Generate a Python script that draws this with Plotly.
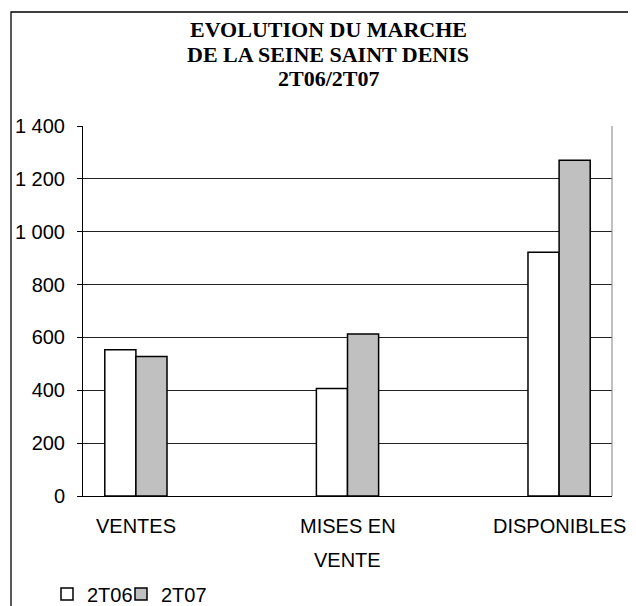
import plotly.graph_objects as go

# data
categories = ["VENTES", "MISES EN VENTE", "DISPONIBLES"]
label_lines = [["VENTES"], ["MISES EN", "VENTE"], ["DISPONIBLES"]]
series_names = ["2T06", "2T07"]
values_2t06 = [553, 407, 922]
values_2t07 = [528, 613, 1270]
y_ticks = [0, 200, 400, 600, 800, 1000, 1200, 1400]
title_lines = ["EVOLUTION DU MARCHE", "DE LA SEINE SAINT DENIS", "2T06/2T07"]

# the page body has an 8px margin, so the figure is shrunk by that much
OFF = 8
W, H = 636 - OFF, 606 - OFF
L, R, T, B = 83, 612, 126, 496  # plot area, window pixels

SANS = "Liberation Sans, Arial, sans-serif"
SERIF = "Liberation Serif, Times New Roman, serif"


def px(x):
    return (x - L) / (R - L)


def py(y):
    return (B - y) / (B - T)


fig = go.Figure()

fig.add_trace(go.Bar(
    x=categories, y=values_2t06, name=series_names[0], legend="legend",
    marker=dict(color="white", line=dict(color="black", width=1.5)),
))
fig.add_trace(go.Bar(
    x=categories, y=values_2t07, name=series_names[1], legend="legend2",
    marker=dict(color="#c0c0c0", line=dict(color="black", width=1.5)),
))

# title, one annotation per line to keep the tight line spacing
for line, yc in zip(title_lines, [29, 55, 78.5]):
    fig.add_annotation(
        text=line, xref="paper", yref="paper", x=px(328), y=py(yc),
        xanchor="center", yanchor="middle", showarrow=False,
        font=dict(family=SERIF, size=22, color="black", weight="bold"),
    )

# category labels under the axis
for cat, lines in zip(categories, label_lines):
    for i, line in enumerate(lines):
        fig.add_annotation(
            text=line, xref="x", yref="paper", x=cat, y=py(525.5 + 34 * i),
            xanchor="center", yanchor="middle", showarrow=False,
            font=dict(family=SANS, size=20, color="black"),
        )

# outer frame (open to the right/bottom of the window) and right border of plot
fig.add_shape(type="rect", xref="paper", yref="paper",
              x0=px(11), x1=px(660), y0=py(640), y1=py(12),
              line=dict(color="black", width=1.3), layer="below")
fig.add_shape(type="line", xref="paper", yref="paper",
              x0=1, x1=1, y0=0, y1=1, line=dict(color="#808080", width=1))

legend_style = dict(
    orientation="h", xanchor="left", yanchor="middle", y=py(594),
    font=dict(family=SANS, size=20, color="black"),
    bgcolor="rgba(0,0,0,0)",
)

fig.update_layout(
    width=W, height=H,
    margin=dict(l=L - OFF, r=W + OFF - R, t=T - OFF, b=H + OFF - B,
                autoexpand=False),
    paper_bgcolor="white", plot_bgcolor="white",
    barmode="group", bargap=0.706, bargroupgap=0,
    separators=", ",
    showlegend=True,
    legend=dict(x=px(47), **legend_style),
    legend2=dict(x=px(121), **legend_style),
    xaxis=dict(
        type="category", range=[-0.25, 2.25], showticklabels=False,
        ticks="", showgrid=False, showline=True, linecolor="black", linewidth=1,
    ),
    xaxis2=dict(
        overlaying="x", anchor="y", range=[-0.25, 2.25], showgrid=False,
        showline=False, zeroline=False, showticklabels=False,
        tickmode="array", tickvals=[-0.25, 0.25, 0.75, 1.25, 1.75, 2.25],
        ticks="outside", ticklen=6, tickcolor="black", tickwidth=1,
    ),
    yaxis=dict(
        range=[0, 1400], tickmode="array", tickvals=y_ticks, tickformat=",d",
        showgrid=True, gridcolor="#222222", gridwidth=1, zeroline=False,
        showline=True, linecolor="black", linewidth=1,
        ticks="outside", ticklen=5, tickcolor="black", ticklabelstandoff=8,
        tickfont=dict(family=SANS, size=20, color="black"),
    ),
)

fig.write_html("out.html")
